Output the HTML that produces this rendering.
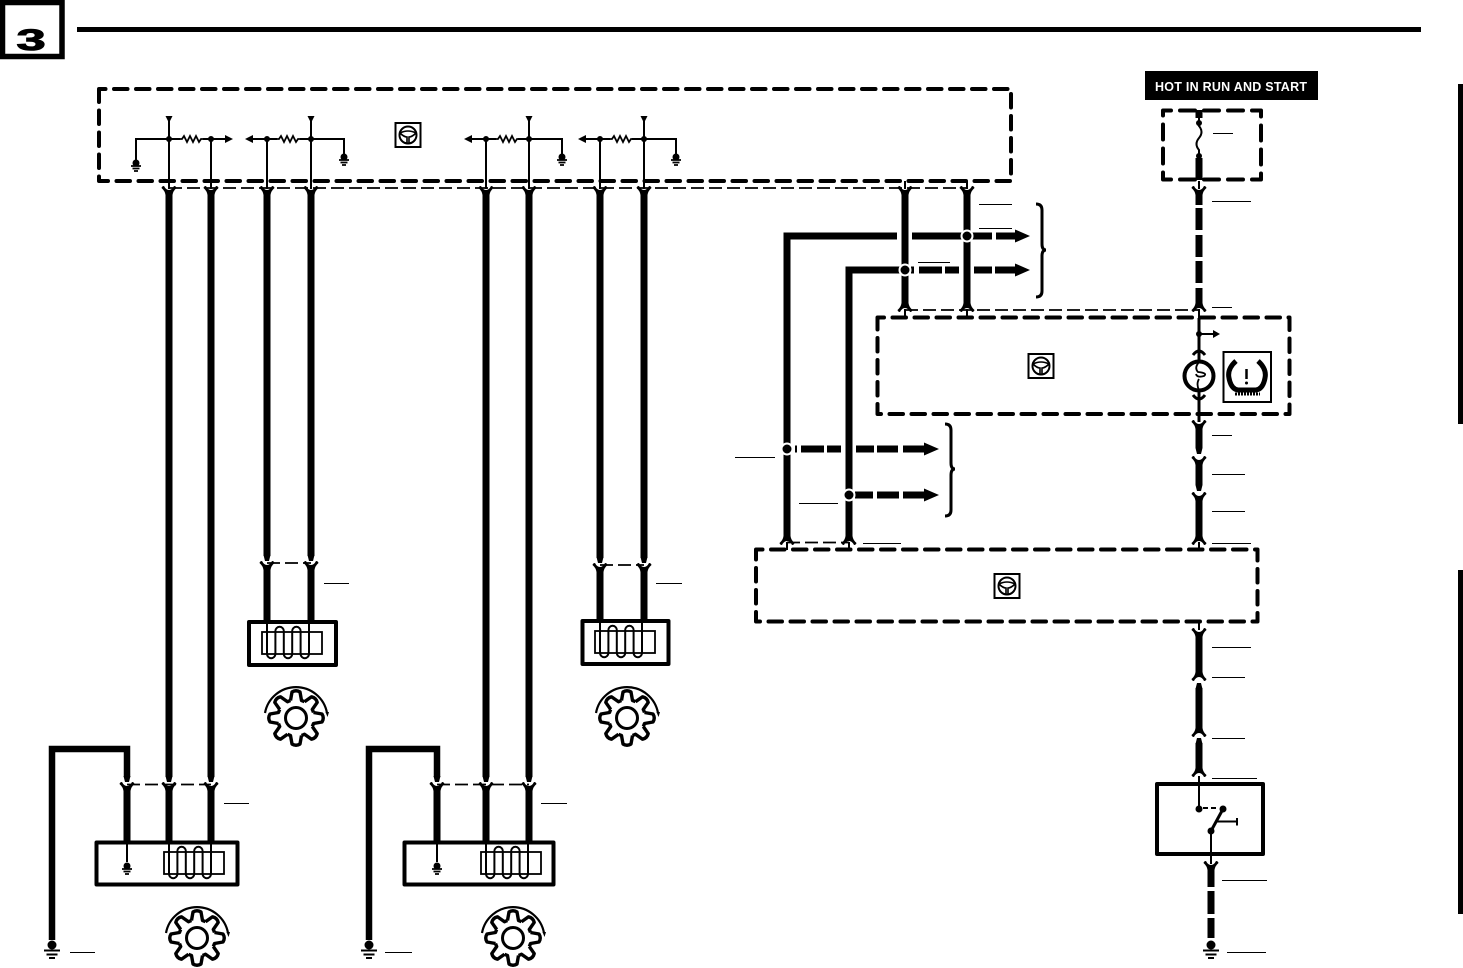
<!DOCTYPE html>
<html><head><meta charset="utf-8"><style>html,body{margin:0;padding:0;background:#fff}svg{display:block}</style></head><body>
<svg width="1463" height="968" viewBox="0 0 1463 968" xmlns="http://www.w3.org/2000/svg">
<defs>
<path id="fd" d="M-7.500,1 Q-7,-1 -5,-1 Q-3,3 0,3 Q3,3 5,-1 Q7,-1 7.500,1 Q4,4 3.500,8 L-3.500,8 Q-4,4 -7.500,1Z"/>
<path id="fu" d="M-7.500,-1 Q-7,1 -5,1 Q-3,-3 0,-3 Q3,-3 5,1 Q7,1 7.500,-1 Q4,-4 3.500,-8 L-3.500,-8 Q-4,-4 -7.500,-1Z"/>
<path id="td" d="M-3.500,-1 L3.500,-1 L2,5 L-2,5Z"/>
<path id="tu" d="M-3.500,1 L3.500,1 L2,-5 L-2,-5Z"/>
<g id="gs"><circle cx="0" cy="0" r="3.500"/><path d="M-5,3 H5 M-3.500,5.500 H3.500 M-2,8 H2" stroke="#000" stroke-width="1.800" fill="none"/></g>
<g id="gb"><circle cx="0" cy="0" r="4.500"/><path d="M-8,5.500 H8 M-5.500,9.500 H5.500 M-3,13 H3" stroke="#000" stroke-width="2" fill="none"/></g>
<g id="coil" fill="none" stroke="#000"><rect x="-5" y="11" width="60" height="22" stroke-width="1.800"/>
<path d="M0,0 V33 a4.200,4.200 0 0 0 8.400,0 V10 a4.200,4.200 0 0 1 8.400,0 V33 a4.200,4.200 0 0 0 8.400,0 V10 a4.200,4.200 0 0 1 8.400,0 V33 a4.200,4.200 0 0 0 8.400,0 V0" stroke-width="2"/></g>
<path id="t" d="M-5.500,-17.500 L-4,-26 Q0,-28.500 4,-26 L5.500,-17.500 A18.340,18.340 0 0 1 8.490,-16.260" fill="none" stroke="#000" stroke-width="3.400" stroke-linejoin="round"/>
<g id="gear">
<use href="#t"/><use href="#t" transform="rotate(45)"/><use href="#t" transform="rotate(90)"/><use href="#t" transform="rotate(135)"/><use href="#t" transform="rotate(180)"/><use href="#t" transform="rotate(225)"/><use href="#t" transform="rotate(270)"/><use href="#t" transform="rotate(315)"/>
<circle r="10.500" fill="none" stroke="#000" stroke-width="3"/>
<path d="M-31,-5 A31.500,31.500 0 0 1 31,-5" fill="none" stroke="#000" stroke-width="2.200"/>
<path d="M29.500,-6 L33,-6 L31.500,-1Z"/>
</g>
<g id="sw" fill="none" stroke="#000"><rect x="-12.500" y="-12" width="25" height="24" stroke-width="2"/>
<circle r="8.500" stroke-width="2"/><path d="M-8,-2 Q0,-6 8,-2 M-8,-2 Q-4,2 -1,2 V8 M8,-2 Q4,2 1,2 V8" stroke-width="1.600"/></g>
<path id="res" d="M0,0 l2,0 l2,-3 l3,6 l3,-6 l3,6 l3,-6 l3,6 l2,-3 l2,0" fill="none" stroke="#000" stroke-width="1.800"/>
</defs>

<!-- page number -->
<rect x="2.500" y="2.500" width="59.500" height="54" fill="#fff" stroke="#000" stroke-width="5.500"/>
<text transform="translate(16.500,50) scale(1.750,1)" font-family="Liberation Sans, sans-serif" font-weight="700" font-size="30" stroke="#000" stroke-width="1">3</text>
<rect x="77" y="27" width="1344" height="5"/>
<rect x="1458" y="84" width="5" height="340"/>
<rect x="1458" y="570" width="5" height="344"/>

<!-- dashed modules -->
<g fill="none" stroke="#000" stroke-width="4" stroke-dasharray="13.500 8.500" stroke-dashoffset="7" stroke-linecap="round" stroke-linejoin="round">
<rect x="99" y="89" width="912" height="92"/>
<rect x="877.500" y="317.500" width="412" height="96.500"/>
<rect x="756" y="549.500" width="501.500" height="72"/>
<rect x="1163" y="110.500" width="98" height="69" stroke-dasharray="15 9"/>
</g>

<!-- thin dashed connector lines -->
<g fill="none" stroke="#000" stroke-width="1.800" stroke-dasharray="13 5">
<path d="M169,188 H967"/><path d="M905,310 H1199"/><path d="M787,542.500 H849"/>
<path d="M267,563 H311"/><path d="M600,565 H644"/>
<path d="M127,784.500 H211"/><path d="M437,784.500 H529"/>
</g>

<!-- thick wires -->
<g fill="none" stroke="#000" stroke-width="7">
<path d="M169,194 V777 M211,194 V777 M267,194 V556 M311,194 V556 M486,194 V777 M529,194 V777 M600,194 V558 M644,194 V558"/>
<path d="M905,194 V304 M967,194 V304"/>
<path d="M267,569 V622 M311,569 V622 M600,571 V621 M644,571 V621"/>
<path d="M127,791 V842 M169,791 V842 M211,791 V842 M437,791 V842 M486,791 V842 M529,791 V842"/>
<path d="M52,940 V749 H127 V777 M369,940 V749 H437 V777" stroke-width="6.500"/>
<path d="M787,537 V236 H897 M912,236 H962 M972,236 H992 M996,236 H1016"/>
<path d="M849,537 V270 H900 M911,270 H914 M919,270 H942 M945,270 H959 M974,270 H992 M995,270 H1016"/>
<path d="M795,449 H797 M801,449 H824 M827,449 H841 M856,449 H874 M877,449 H898 M903,449 H925"/>
<path d="M855,495 H873 M877,495 H899 M903,495 H925"/>
<path d="M1199,158 V180 M1199,110 V118 M1199,194 V205 M1199,208 V230 M1199,235 V257 M1199,261 V283 M1199,288 V304"/>
<path d="M1199,428 V448 M1199,464 V485 M1199,500 V536 M1199,636 V672 M1199,688 V729 M1199,743 V768"/>
<path d="M1211,869 V887 M1211,891 V914 M1211,918 V938"/>
</g>

<!-- arrowheads of thick wires -->
<path d="M1015,229.500 L1030,236 L1015,242.500Z M1015,263.500 L1030,270 L1015,276.500Z M924,442.500 L939,449 L924,455.500Z M924,488.500 L939,495 L924,501.500Z"/>

<!-- junction dots -->
<g fill="#000" stroke="#fff" stroke-width="2"><circle cx="967" cy="236" r="5.500"/><circle cx="905" cy="270" r="5.500"/><circle cx="787" cy="449" r="5.500"/><circle cx="849" cy="495" r="5.500"/></g>

<!-- forks and tips -->
<g>
<use href="#fd" x="169" y="187"/><use href="#fd" x="211" y="187"/><use href="#fd" x="267" y="187"/><use href="#fd" x="311" y="187"/>
<use href="#fd" x="486" y="187"/><use href="#fd" x="529" y="187"/><use href="#fd" x="600" y="187"/><use href="#fd" x="644" y="187"/>
<use href="#fd" x="905" y="187"/><use href="#fd" x="967" y="187"/><use href="#fd" x="1199" y="187"/>
<use href="#fu" x="905" y="311"/><use href="#fu" x="967" y="311"/><use href="#fu" x="1199" y="311"/>
<use href="#fu" x="787" y="544"/><use href="#fu" x="849" y="544"/><use href="#fu" x="1199" y="544"/>
<use href="#td" x="267" y="556"/><use href="#td" x="311" y="556"/><use href="#td" x="600" y="558"/><use href="#td" x="644" y="558"/>
<use href="#fd" x="267" y="562"/><use href="#fd" x="311" y="562"/><use href="#fd" x="600" y="564"/><use href="#fd" x="644" y="564"/>
<use href="#td" x="127" y="777"/><use href="#td" x="169" y="777"/><use href="#td" x="211" y="777"/><use href="#td" x="437" y="777"/><use href="#td" x="486" y="777"/><use href="#td" x="529" y="777"/>
<use href="#fd" x="127" y="783"/><use href="#fd" x="169" y="783"/><use href="#fd" x="211" y="783"/><use href="#fd" x="437" y="783"/><use href="#fd" x="486" y="783"/><use href="#fd" x="529" y="783"/>
<use href="#fd" x="1199" y="421"/><use href="#td" x="1199" y="449"/><use href="#fd" x="1199" y="457"/><use href="#td" x="1199" y="486"/><use href="#fd" x="1199" y="493"/>
<use href="#fd" x="1199" y="629"/><use href="#fu" x="1199" y="680"/><use href="#tu" x="1199" y="688"/><use href="#fu" x="1199" y="736"/><use href="#tu" x="1199" y="743"/><use href="#fu" x="1199" y="776"/>
<use href="#fd" x="1211" y="862"/>
</g>

<!-- thin wires -->
<g fill="none" stroke="#000" stroke-width="2">
<path d="M169,120 V189 M211,139 V189 M267,139 V189 M311,120 V189 M486,139 V189 M529,120 V189 M600,139 V189 M644,120 V189"/>
<path d="M905,181 V189 M967,181 V189 M905,309 V318 M967,309 V318 M1199,181 V189 M1199,309 V318 M787,542 V550 M849,542 V550 M1199,542 V550"/>
<path d="M136,160 V139 H180 M203,139 H226 M253,139 H277 M300,139 H344 V155"/>
<path d="M562,155 V139 H518 M496,139 H472 M676,155 V139 H632 M610,139 H586"/>
<path d="M127,842 V862 M437,842 V862"/>
<path d="M1199,318 V362 M1199,390 V422" stroke-width="3"/>
<path d="M1199,622 V630 M1199,776 V809 M1199,334 H1214"/>
<path d="M1211,831 V864"/>
</g>

<!-- top module internals -->
<g>
<path d="M165.500,116 H172.500 L169,123Z M307.500,116 H314.500 L311,123Z M525.500,116 H532.500 L529,123Z M640.500,116 H647.500 L644,123Z"/>
<path d="M225,135 L233,139 L225,143Z M253,135 L245,139 L253,143Z M472,135 L464,139 L472,143Z M586,135 L578,139 L586,143Z"/>
<circle cx="169" cy="139" r="3"/><circle cx="211" cy="139" r="3"/><circle cx="267" cy="139" r="3"/><circle cx="311" cy="139" r="3"/>
<circle cx="486" cy="139" r="3"/><circle cx="529" cy="139" r="3"/><circle cx="600" cy="139" r="3"/><circle cx="644" cy="139" r="3"/>
<use href="#res" x="180" y="139"/><use href="#res" x="277" y="139"/><use href="#res" x="496" y="139"/><use href="#res" x="610" y="139"/>
<use href="#gs" x="136" y="163"/><use href="#gs" x="344" y="157"/><use href="#gs" x="562" y="157"/><use href="#gs" x="676" y="157"/>
<use href="#gs" x="127" y="866"/><use href="#gs" x="437" y="866"/>
<use href="#sw" x="408" y="135"/><use href="#sw" x="1041" y="366"/><use href="#sw" x="1007" y="586"/>
</g>

<!-- braces -->
<g fill="none" stroke="#000" stroke-width="3">
<path d="M1036,204 Q1042,204 1042,210 V244 Q1042,250 1046,250 Q1042,250 1042,256 V291 Q1042,297 1036,297"/>
<path d="M945,424 Q951,424 951,430 V463 Q951,469 955,469 Q951,469 951,475 V510 Q951,516 945,516"/>
</g>

<!-- sensor boxes -->
<g fill="none" stroke="#000" stroke-width="4" stroke-linejoin="round">
<rect x="249" y="622" width="87" height="43"/>
<rect x="582.500" y="621" width="86" height="43"/>
<rect x="96.500" y="842.500" width="141" height="42"/>
<rect x="404.500" y="842.500" width="149" height="42"/>
<rect x="1157" y="784" width="106" height="70"/>
</g>
<use href="#coil" x="267" y="621"/><use href="#coil" x="600" y="620"/><use href="#coil" x="169" y="841"/><use href="#coil" x="486" y="841"/>
<use href="#gear" x="296" y="718"/><use href="#gear" x="627" y="718"/><use href="#gear" x="197" y="938"/><use href="#gear" x="513" y="938"/>

<!-- grounds -->
<use href="#gb" x="52" y="945"/><use href="#gb" x="369" y="945"/><use href="#gb" x="1211" y="945"/>

<!-- label -->
<rect x="1145" y="71" width="173" height="29"/>
<text x="1155" y="91" fill="#fff" font-family="Liberation Sans, sans-serif" font-weight="700" font-size="12.500" textLength="152" lengthAdjust="spacing">HOT IN RUN AND START</text>

<!-- fuse -->
<circle cx="1199" cy="123" r="3"/><circle cx="1199" cy="156" r="3"/>
<path d="M1199,118 V126 Q1204,132 1199,138 Q1194,144 1199,150 V156" fill="none" stroke="#000" stroke-width="2"/>

<!-- lamp -->
<circle cx="1199" cy="334" r="3"/>
<path d="M1213,330 L1220,334 L1213,338Z"/>
<path d="M1193,355 Q1199,347 1205,355 M1193,395 Q1199,403 1205,395" fill="none" stroke="#000" stroke-width="3"/>
<circle cx="1199" cy="376" r="14.500" fill="#fff" stroke="#000" stroke-width="4"/>
<path d="M1199,362 Q1194,368 1198,372 Q1208,373 1204,376 Q1197,378 1196,374 M1199,379 Q1196,384 1199,390" fill="none" stroke="#000" stroke-width="1.800"/>

<!-- TPMS icon -->
<rect x="1223.500" y="352" width="47.500" height="50" fill="#fff" stroke="#000" stroke-width="2"/>
<path d="M1236,361 Q1227,369 1229,378 Q1231,389 1238,390 H1256 Q1263,389 1265,378 Q1267,369 1258,361" fill="none" stroke="#000" stroke-width="5"/>
<path d="M1235,394 H1260" stroke="#000" stroke-width="3" stroke-dasharray="2 1" fill="none"/>
<path d="M1246.500,369 V379" stroke="#000" stroke-width="2.500"/><circle cx="1246.500" cy="383" r="1.500"/>

<!-- switch -->
<circle cx="1199" cy="809" r="3.500"/><circle cx="1223" cy="809" r="3.500"/><circle cx="1211" cy="831" r="3.500"/>
<path d="M1203,808 H1219" stroke="#000" stroke-width="2" stroke-dasharray="5 3" fill="none"/>
<path d="M1223,809 L1211,831" stroke="#000" stroke-width="3" fill="none"/>
<path d="M1217,821.500 H1237 M1237,818 V825.500" stroke="#000" stroke-width="2" fill="none"/>

<!-- leader lines -->
<g fill="none" stroke="#000" stroke-width="1">
<path d="M1213,133.500 H1233 M1212,201.500 H1251 M979,204.500 H1012 M979,228.500 H1012 M918,262.500 H950 M1212,307.500 H1232"/>
<path d="M1212,435.500 H1232 M1212,474.500 H1245 M1212,511.500 H1245 M1212,543.500 H1251 M735,457.500 H775 M799,503.500 H838 M863,543.500 H901"/>
<path d="M324,583.500 H349 M656,583.500 H682 M224,803.500 H249 M541,803.500 H567 M70,952.500 H95 M385,952.500 H412"/>
<path d="M1212,647.500 H1251 M1212,677.500 H1245 M1212,738.500 H1245 M1212,778.500 H1257 M1222,880.500 H1267 M1227,952.500 H1266"/>
</g>
</svg>
</body></html>
